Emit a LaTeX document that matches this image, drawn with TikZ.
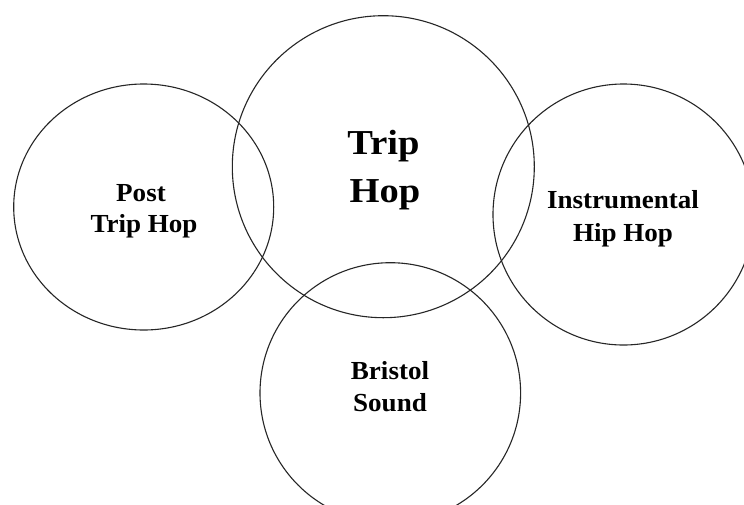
\documentclass[tikz,border=0pt]{standalone}
\usepackage{fontspec}
\setmainfont{Liberation Serif}
\newfontfamily\widesmall[FakeStretch=1.04]{Liberation Serif}
\newfontfamily\widebig[FakeStretch=1.1]{Liberation Serif}
\begin{document}
\begin{tikzpicture}[x=1pt,y=-1pt,
  ring/.style={draw=black!85, line width=1.1pt},
  smalllabel/.style={font=\widesmall\fontsize{26}{31}\selectfont\bfseries, anchor=base, inner sep=0pt},
  biglabel/.style={font=\widebig\fontsize{35}{40}\selectfont\bfseries, anchor=base, inner sep=0pt}]
\clip (0,0) rectangle (744,504);
\fill[white] (0,0) rectangle (744,504);
% circles
\draw[ring] (143.7,207) ellipse [x radius=130, y radius=123];
\draw[ring] (383.3,166.7) circle [radius=151];
\draw[ring] (623.5,214.5) circle [radius=130.5];
\draw[ring] (390.3,393) circle [radius=130.3];
% labels
\node[smalllabel] (postA) at (141,201) {Post};
\node[smalllabel] (postB) at (144,232) {Trip Hop};
\node[biglabel] (tripA) at (383.5,154) {Trip};
\node[biglabel] (tripB) at (385,202) {Hop};
\node[smalllabel] (instA) at (623,208) {Instrumental};
\node[smalllabel] (instB) at (623,241) {Hip Hop};
\node[smalllabel] (bristolA) at (390,379) {Bristol};
\node[smalllabel] (bristolB) at (390,411) {Sound};
\end{tikzpicture}
\end{document}
